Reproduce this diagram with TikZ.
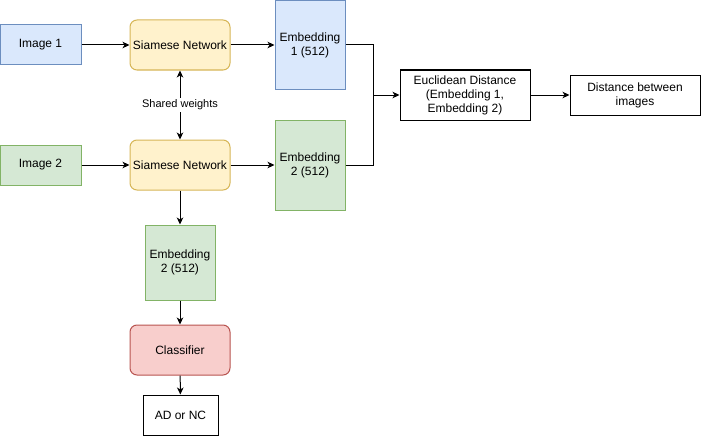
\documentclass[tikz,border=0pt]{standalone}
\usepackage{fontspec}
\setmainfont{Liberation Sans}
\usetikzlibrary{arrows.meta,positioning}
\definecolor{bluefill}{HTML}{DAE8FC}\definecolor{bluedraw}{HTML}{6C8EBF}
\definecolor{yelfill}{HTML}{FFF2CC}\definecolor{yeldraw}{HTML}{D6B656}
\definecolor{grnfill}{HTML}{D5E8D4}\definecolor{grndraw}{HTML}{82B366}
\definecolor{redfill}{HTML}{F8CECC}\definecolor{reddraw}{HTML}{B85450}
\tikzset{
  box/.style={draw, line width=1pt, inner sep=0pt, align=center, font=\fontsize{12}{14}\selectfont, text=black},
  bluebox/.style={box, fill=bluefill, draw=bluedraw},
  yelbox/.style={box, fill=yelfill, draw=yeldraw, rounded corners=7pt},
  grnbox/.style={box, fill=grnfill, draw=grndraw},
  redbox/.style={box, fill=redfill, draw=reddraw, rounded corners=7pt},
  whitebox/.style={box, fill=white, draw=black},
  conn/.style={line width=1pt, -{Stealth[length=7pt,width=6.5pt,inset=2pt]}},
}
\begin{document}
\begin{tikzpicture}[x=1pt,y=-1pt]
\useasboundingbox (0,0) rectangle (701,436);
\node[bluebox, minimum width=81pt, minimum height=40pt] (img1) at (40.5,45) {Image 1};
\node[grnbox, minimum width=81pt, minimum height=40pt] (img2) at (40.5,165) {Image 2};
\node[yelbox, minimum width=100pt, minimum height=50pt] (sn1) at (180,45) {Siamese Network};
\node[yelbox, minimum width=100pt, minimum height=50pt] (sn2) at (180,165) {Siamese Network};
\node[bluebox, minimum width=70pt, minimum height=89pt] (emb1) at (310,45) {Embedding\\1 (512)};
\node[grnbox, minimum width=70pt, minimum height=90pt] (emb2) at (310,165) {Embedding\\2 (512)};
\node[whitebox, minimum width=130pt, minimum height=50pt] (eucl) at (465,95) {Euclidean Distance\\(Embedding 1,\\Embedding 2)};
\node[whitebox, minimum width=130pt, minimum height=40pt] (dist) at (635,95) {Distance between\\images};
\node[grnbox, minimum width=70pt, minimum height=75pt] (emb3) at (180,262.5) {Embedding\\2 (512)};
\node[redbox, minimum width=100pt, minimum height=50pt] (cls) at (180,350) {Classifier};
\node[whitebox, minimum width=75pt, minimum height=40pt] (ad) at (180.5,415) {AD or NC};
\coordinate (merge) at (373,95);

\draw[conn] (img1) -- (sn1);
\draw[conn] (img2) -- (sn2);
\draw[conn] (sn1) -- (emb1);
\draw[conn] (sn2) -- (emb2);
\draw[line width=1pt] (emb1.east) -| (merge);
\draw[line width=1pt] (emb2.east) -| (merge);
\draw[conn] (merge) -- (eucl);
\draw[conn] (eucl) -- (dist);
\draw[line width=1pt, {Stealth[length=7pt,width=6.5pt,inset=2pt]}-{Stealth[length=7pt,width=6.5pt,inset=2pt]}] (sn1) -- node[fill=white, inner sep=2pt, font=\fontsize{11}{13}\selectfont] (sw) {Shared weights} (sn2);
\draw[conn] (sn2) -- (emb3);
\draw[conn] (emb3) -- (cls);
\draw[conn] (cls) -- (ad);
\end{tikzpicture}
\end{document}
